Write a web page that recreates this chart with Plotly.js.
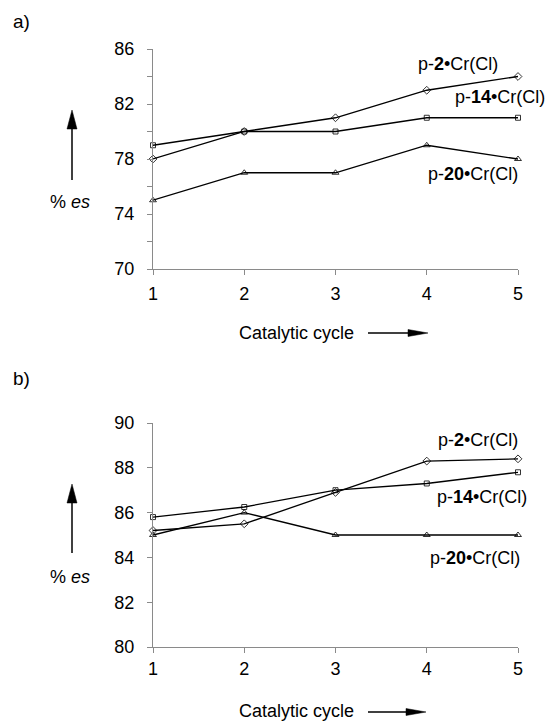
<!DOCTYPE html>
<html><head><meta charset="utf-8">
<script src="https://cdn.plot.ly/plotly-3.0.1.min.js"></script>
<style>html,body{margin:0;padding:0;background:#fff}</style>
</head><body><div id="chart" style="width:546px;height:722px"></div>
<script>
// ---- data ----
const cycles = [1, 2, 3, 4, 5];
const labelP2 = 'p-<b>2</b>•Cr(Cl)';
const labelP14 = 'p-<b>14</b>•Cr(Cl)';
const labelP20 = 'p-<b>20</b>•Cr(Cl)';
const a_p2 = [78, 80, 81, 83, 84];
const a_p14 = [79, 80, 80, 81, 81];
const a_p20 = [75, 77, 77, 79, 78];
const b_p2 = [85.2, 85.5, 86.9, 88.3, 88.4];
const b_p14 = [85.8, 86.25, 87.0, 87.3, 87.8];
const b_p20 = [85.0, 86.0, 85.0, 85.0, 85.0];
const yTicksA = [70, 74, 78, 82, 86];
const yMinorA = [72, 76, 80, 84];
const yTicksB = [80, 82, 84, 86, 88, 90];

// ---- layout helpers ----
const W = 546, H = 722;
const px = x => x / W;
const py = y => 1 - y / H;
const FONT = 'Liberation Sans, Arial, Helvetica, sans-serif';
const AX = '#8a8a8a';
const FS = 18;

function tr(x, y, sym, xa, ya) {
  return {
    x: x, y: y, xaxis: xa, yaxis: ya, type: 'scatter', mode: 'lines+markers',
    line: {color: '#000', width: 1.3},
    marker: {symbol: sym, size: sym === 'square-open' ? 5 : 6, color: '#000', line: {width: 0.8}},
    cliponaxis: false, showlegend: false, hoverinfo: 'skip'
  };
}
const data = [
  tr(cycles, a_p2, 'diamond-open', 'x', 'y'),
  tr(cycles, a_p14, 'square-open', 'x', 'y'),
  tr(cycles, a_p20, 'triangle-up-open', 'x', 'y'),
  tr(cycles, b_p2, 'diamond-open', 'x2', 'y2'),
  tr(cycles, b_p14, 'square-open', 'x2', 'y2'),
  tr(cycles, b_p20, 'triangle-up-open', 'x2', 'y2')
];

function xax(anchor, standoff) {
  return {
    domain: [px(153), px(518)], range: [1, 5], anchor: anchor,
    tickvals: cycles, ticks: 'outside', ticklen: 5, tickcolor: AX, tickwidth: 1,
    showline: true, linecolor: AX, linewidth: 1, showgrid: false, zeroline: false,
    tickfont: {size: FS, color: '#000', family: FONT}, ticklabelstandoff: standoff, fixedrange: true
  };
}
function yax(anchor, dom, range, tv, minor) {
  const o = {
    domain: dom, range: range, anchor: anchor,
    tickvals: tv, ticks: 'outside', ticklen: 5, tickcolor: AX, tickwidth: 1,
    showline: true, linecolor: AX, linewidth: 1, showgrid: false, zeroline: false,
    tickfont: {size: FS, color: '#000', family: FONT}, ticklabelstandoff: 9, fixedrange: true
  };
  if (minor) o.minor = {tickvals: minor, ticks: 'outside', ticklen: 5, tickcolor: AX, tickwidth: 1, showgrid: false};
  return o;
}

function ann(text, x, y, size, extra) {
  return Object.assign({
    text: text, xref: 'paper', yref: 'paper', x: px(x), y: py(y),
    xanchor: 'center', yanchor: 'middle', showarrow: false,
    font: {size: size, color: '#000', family: FONT}
  }, extra || {});
}

const annotations = [
  ann('a)', 21, 21, 19),
  ann('b)', 21, 378, 19),
  ann('% <i>es</i>', 70, 202, FS),
  ann('% <i>es</i>', 70, 577, FS),
  ann('Catalytic cycle', 296, 333, FS),
  ann('Catalytic cycle', 296, 711, FS),
  ann(labelP2, 458, 64, FS),
  ann(labelP14, 500, 97, FS),
  ann(labelP20, 473, 174, FS),
  ann(labelP2, 478, 440, FS),
  ann(labelP14, 482, 497, FS),
  ann(labelP20, 475, 558, FS)
];

function vArrow(x, tip, bottom) {
  return [
    {type: 'line', xref: 'paper', yref: 'paper', x0: px(x), x1: px(x), y0: py(bottom), y1: py(tip + 14), line: {color: '#000', width: 1.5}},
    {type: 'path', xref: 'paper', yref: 'paper',
     path: `M ${px(x - 5)} ${py(tip + 19)} L ${px(x + 5)} ${py(tip + 19)} L ${px(x)} ${py(tip)} Z`,
     fillcolor: '#000', line: {color: '#000', width: 0.5}}
  ];
}
function hArrow(y, left, tip) {
  return [
    {type: 'line', xref: 'paper', yref: 'paper', x0: px(left), x1: px(tip - 14), y0: py(y), y1: py(y), line: {color: '#000', width: 1.3}},
    {type: 'path', xref: 'paper', yref: 'paper',
     path: `M ${px(tip - 20)} ${py(y - 3.5)} L ${px(tip - 20)} ${py(y + 3.5)} L ${px(tip)} ${py(y)} Z`,
     fillcolor: '#000', line: {color: '#000', width: 0.5}}
  ];
}
const shapes = [].concat(vArrow(72, 110, 180), vArrow(72, 484, 553), hArrow(333, 368, 428), hArrow(712, 368, 426));

const layout = {
  width: W, height: H, margin: {l: 0, r: 0, t: 0, b: 0},
  paper_bgcolor: '#fff', plot_bgcolor: '#fff',
  font: {family: FONT, color: '#000'},
  xaxis: xax('y', 3), xaxis2: xax('y2', 0),
  yaxis: yax('x', [py(269), py(49)], [70, 86], yTicksA, yMinorA),
  yaxis2: yax('x2', [py(647), py(423)], [80, 90], yTicksB, null),
  annotations: annotations, shapes: shapes, showlegend: false
};
Plotly.newPlot('chart', data, layout, {displayModeBar: false, staticPlot: true});
</script></body></html>
